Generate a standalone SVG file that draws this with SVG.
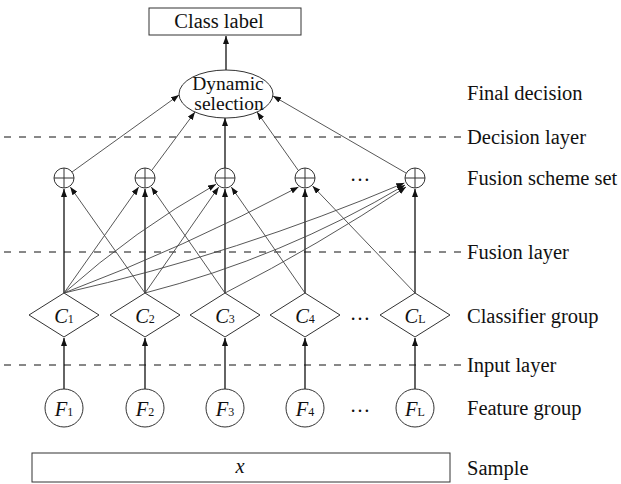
<svg xmlns="http://www.w3.org/2000/svg" width="621" height="484" viewBox="0 0 621 484" font-family="'Liberation Serif', 'DejaVu Serif', 'Times New Roman', serif">
<style>
text{font-family:"Liberation Serif","DejaVu Serif","Times New Roman",serif;fill:#111;font-size:20.5px}
.mid{text-anchor:middle}
.it{font-style:italic}
.sub{font-size:12px}
.shape{fill:#fff;stroke:#333;stroke-width:1}
.dash{stroke:#111;stroke-width:1;stroke-dasharray:7 8;fill:none}
.v{stroke:#111;stroke-width:1.3;fill:none;marker-end:url(#ah)}
.d{stroke:#444;stroke-width:0.9;fill:none;marker-end:url(#ah)}
.el{font-size:19.5px}
</style>
<defs>
<marker id="ah" viewBox="0 0 8 6" refX="8" refY="3" markerWidth="8" markerHeight="6" markerUnits="userSpaceOnUse" orient="auto">
<path d="M0,0 L8,3 L0,6 z" fill="#111"/>
</marker>
</defs>
<rect width="621" height="484" fill="#fff"/>

<g id="layers">
<line class="dash" x1="4" y1="137" x2="464" y2="137"/>
<line class="dash" x1="4" y1="252" x2="464" y2="252"/>
<line class="dash" x1="4" y1="365" x2="464" y2="365"/>
</g>

<g id="connectors">
<line class="v" x1="226" y1="70" x2="226" y2="36"/>
<line class="d" x1="72" y1="172" x2="179" y2="95"/>
<line class="d" x1="152" y1="170" x2="195" y2="112"/>
<line class="v" x1="225" y1="168" x2="225" y2="118"/>
<line class="d" x1="298" y1="170" x2="257" y2="112"/>
<line class="d" x1="406" y1="173" x2="273" y2="96"/>

<line class="v" x1="64" y1="293" x2="64" y2="189"/>
<line class="v" x1="145" y1="293" x2="145" y2="189"/>
<line class="v" x1="225" y1="293" x2="225" y2="189"/>
<line class="v" x1="305" y1="293" x2="305" y2="189"/>
<line class="v" x1="415" y1="293" x2="415" y2="189"/>

<line class="d" x1="145" y1="293" x2="70.3" y2="187"/>
<line class="d" x1="225" y1="293" x2="151.3" y2="187"/>
<line class="d" x1="305" y1="293" x2="231.3" y2="187"/>
<line class="d" x1="415" y1="293" x2="312.6" y2="186"/>

<line class="d" x1="64" y1="293" x2="138.7" y2="187"/>
<line class="d" x1="145" y1="293" x2="218.7" y2="187"/>
<path class="d" d="M64,293 Q134.2,230.5 216,184.3"/>
<path class="d" d="M64,293 Q184.5,247.3 298.5,187"/>
<path class="d" d="M64,293 Q239.1,253.2 404.3,183"/>
<path class="d" d="M145,293 Q282.7,257.5 405,185"/>
<path class="d" d="M225,293 Q318.5,245.2 406,187"/>

<line class="v" x1="64" y1="389" x2="64" y2="338"/>
<line class="v" x1="145" y1="389" x2="145" y2="338"/>
<line class="v" x1="225" y1="389" x2="225" y2="338"/>
<line class="v" x1="305" y1="389" x2="305" y2="338"/>
<line class="v" x1="415" y1="389" x2="415" y2="338"/>
</g>

<g id="class-label">
<rect class="shape" x="149" y="8" width="152" height="27"/>
<text class="mid" x="219" y="28">Class label</text>
</g>

<g id="dynamic-selection">
<ellipse class="shape" cx="226" cy="94" rx="47" ry="24"/>
<text class="mid el" x="228" y="90">Dynamic</text>
<text class="mid el" x="229" y="110">selection</text>
</g>

<g id="fusion1" class="shape"><circle cx="64" cy="178" r="10"/><path d="M54,178h20M64,168v20"/></g>
<g id="fusion2" class="shape"><circle cx="145" cy="178" r="10"/><path d="M135,178h20M145,168v20"/></g>
<g id="fusion3" class="shape"><circle cx="225" cy="178" r="10"/><path d="M215,178h20M225,168v20"/></g>
<g id="fusion4" class="shape"><circle cx="305" cy="178" r="10"/><path d="M295,178h20M305,168v20"/></g>
<g id="fusion5" class="shape"><circle cx="415" cy="178" r="10"/><path d="M405,178h20M415,168v20"/></g>
<text class="mid" x="360" y="181">…</text>

<g id="c1"><polygon class="shape" points="29,315 64,293 99,315 64,337"/><text class="mid" x="64" y="323"><tspan class="it">C</tspan><tspan class="sub">1</tspan></text></g>
<g id="c2"><polygon class="shape" points="110,315 145,293 180,315 145,337"/><text class="mid" x="145" y="323"><tspan class="it">C</tspan><tspan class="sub">2</tspan></text></g>
<g id="c3"><polygon class="shape" points="190,315 225,293 260,315 225,337"/><text class="mid" x="225" y="323"><tspan class="it">C</tspan><tspan class="sub">3</tspan></text></g>
<g id="c4"><polygon class="shape" points="270,315 305,293 340,315 305,337"/><text class="mid" x="305" y="323"><tspan class="it">C</tspan><tspan class="sub">4</tspan></text></g>
<g id="cL"><polygon class="shape" points="380,315 415,293 450,315 415,337"/><text class="mid" x="415" y="323"><tspan class="it">C</tspan><tspan class="sub">L</tspan></text></g>
<text class="mid" x="360" y="320">…</text>

<g id="f1"><circle class="shape" cx="64" cy="408" r="19"/><text class="mid" x="64" y="416"><tspan class="it">F</tspan><tspan class="sub">1</tspan></text></g>
<g id="f2"><circle class="shape" cx="145" cy="408" r="19"/><text class="mid" x="145" y="416"><tspan class="it">F</tspan><tspan class="sub">2</tspan></text></g>
<g id="f3"><circle class="shape" cx="225" cy="408" r="19"/><text class="mid" x="225" y="416"><tspan class="it">F</tspan><tspan class="sub">3</tspan></text></g>
<g id="f4"><circle class="shape" cx="305" cy="408" r="19"/><text class="mid" x="305" y="416"><tspan class="it">F</tspan><tspan class="sub">4</tspan></text></g>
<g id="fL"><circle class="shape" cx="415" cy="408" r="19"/><text class="mid" x="415" y="416"><tspan class="it">F</tspan><tspan class="sub">L</tspan></text></g>
<text class="mid" x="360" y="412">…</text>

<g id="sample">
<rect class="shape" x="32" y="453" width="418" height="29"/>
<text class="mid it" x="240" y="473">x</text>
</g>

<g id="labels">
<text x="467" y="100">Final decision</text>
<text x="467" y="144">Decision layer</text>
<text x="467" y="185">Fusion scheme set</text>
<text x="467" y="259">Fusion layer</text>
<text x="467" y="323">Classifier group</text>
<text x="467" y="372">Input layer</text>
<text x="467" y="415">Feature group</text>
<text x="467" y="475">Sample</text>
</g>
</svg>
